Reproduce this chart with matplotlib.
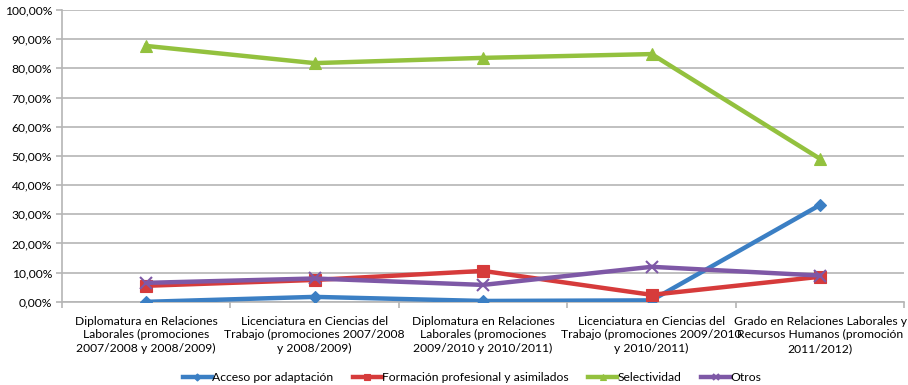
import matplotlib
matplotlib.use('Agg')
import matplotlib.pyplot as plt
import numpy as np
from matplotlib.ticker import FuncFormatter, FixedLocator

plt.rcParams['font.family'] = ['Lato', 'DejaVu Sans']

categories = [
    'Diplomatura en Relaciones\nLaborales (promociones\n2007/2008 y 2008/2009)',
    'Licenciatura en Ciencias del\nTrabajo (promociones 2007/2008\ny 2008/2009)',
    'Diplomatura en Relaciones\nLaborales (promociones\n2009/2010 y 2010/2011)',
    'Licenciatura en Ciencias del\nTrabajo (promociones 2009/2010\ny 2010/2011)',
    'Grado en Relaciones Laborales y\nRecursos Humanos (promoción\n2011/2012)',
]
acceso = [0.0, 1.7, 0.3, 0.5, 33.2]
formacion = [5.5, 7.5, 10.6, 2.4, 8.6]
selectividad = [87.7, 81.8, 83.6, 84.9, 49.0]
otros = [6.5, 8.0, 5.8, 12.0, 9.0]

series = [
    ('Acceso por adaptación', acceso, '#3b7fc4', 'D', 6),
    ('Formación profesional y asimilados', formacion, '#d63b3b', 's', 8),
    ('Selectividad', selectividad, '#93c13e', '^', 8),
    ('Otros', otros, '#7e58a6', 'x', 8),
]

fig = plt.figure(figsize=(9.08, 3.85), dpi=100)
ax = fig.add_axes([0.068, 0.216, 0.928, 0.758])

x = np.arange(len(categories))
for name, vals, col, mk, ms in series:
    ax.plot(x, vals, color=col, lw=3.2, marker=mk, markersize=ms,
            markeredgewidth=1.5 if mk == 'x' else 0.8,
            markeredgecolor=col, label=name, zorder=3)

ax.set_xlim(-0.5, len(categories) - 0.5)
ax.set_ylim(0, 100)
ax.yaxis.set_major_locator(FixedLocator(np.arange(0, 101, 10)))
ax.yaxis.set_major_formatter(FuncFormatter(lambda v, p: f'{v:.2f}%'.replace('.', ',')))
ax.grid(axis='y', color='#b5b5b5', lw=1.2)
ax.set_axisbelow(True)

ax.set_xticks(x)
ax.set_xticklabels(categories, fontsize=8.7, linespacing=1.3)
ax.set_xticks(np.arange(-0.5, len(categories)), minor=True)
ax.tick_params(axis='x', which='major', length=0, pad=10)
ax.tick_params(axis='x', which='minor', length=4, color='#b5b5b5', width=1.2)
ax.tick_params(axis='y', length=4, color='#b5b5b5', width=1.2, labelsize=8.7, pad=3)

for side in ['top', 'right']:
    ax.spines[side].set_visible(False)
for side in ['left', 'bottom']:
    ax.spines[side].set_color('#b5b5b5')
    ax.spines[side].set_linewidth(1.2)

ax.legend(loc='center', bbox_to_anchor=(0.487, -0.26), ncol=4, frameon=False,
          fontsize=8.7, handlelength=2.4, handletextpad=0.05, columnspacing=1.6,
          markerscale=0.6)

fig.savefig('out.png', dpi=100)
